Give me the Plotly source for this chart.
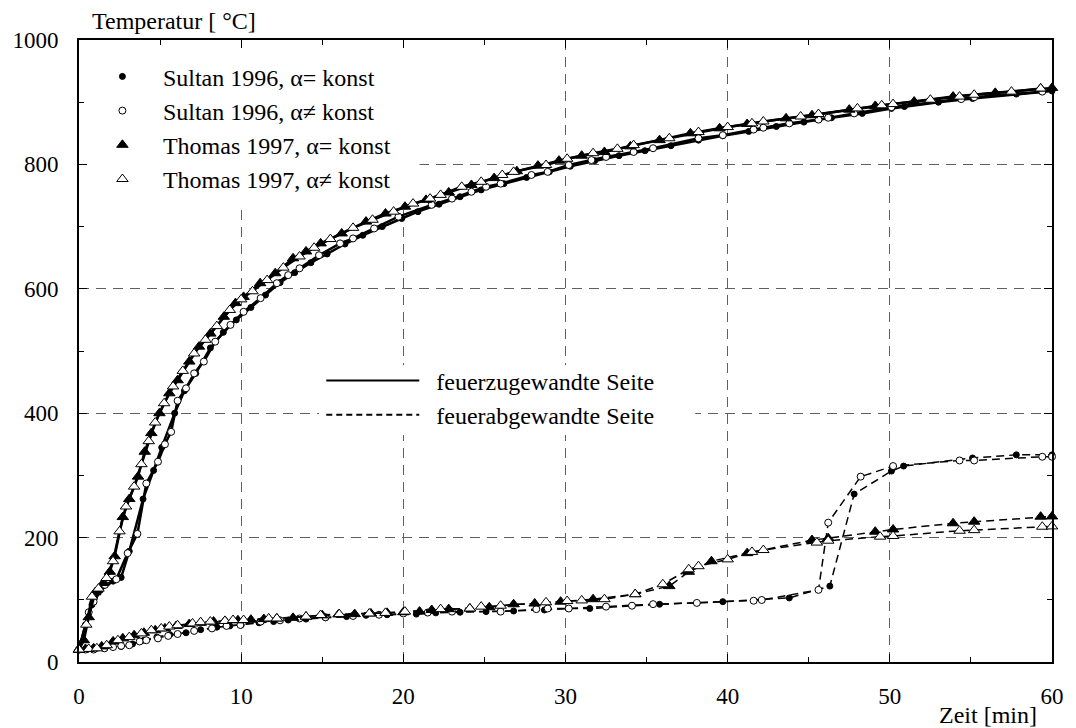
import plotly.graph_objects as go

# ---------------- data ----------------
# fire-exposed side (solid lines)
sultan_const_hot_t = [0, 0.4, 0.8, 1.3, 2.1, 2.6, 3.1, 3.95, 4.6, 5.1, 5.9, 6.5, 7.2, 8.1, 8.9, 9.7,
                      10.6, 11.5, 12.4, 13.3, 14.3, 15.3, 16.4, 17.5, 18.7, 19.9, 20.9, 22.2, 23.5,
                      24.8, 26.2, 27.6, 29.0, 30.3, 31.8, 33.3, 34.9, 36.5, 38.2, 39.7, 41.3, 43.0,
                      44.7, 46.4, 48.3, 50.1, 50.9, 53.0, 55.1, 57.8, 60]
sultan_const_hot_T = [20, 60, 92, 115, 130, 136, 178, 262, 308, 345, 400, 436, 464, 505, 530, 550,
                      570, 590, 610, 626, 642, 656, 672, 686, 700, 713, 724, 736, 748,
                      759, 769, 779, 788, 797, 806, 814, 822, 830, 839, 846, 853, 861,
                      868, 875, 882, 890, 893, 900, 906, 913, 918]

sultan_var_hot_t = [0, 0.6, 0.9, 1.6, 2.3, 3.0, 3.6, 4.15, 4.87, 5.3, 5.68, 6.08, 6.6, 7.1, 7.7, 8.4,
                    9.34, 10.15, 11.2, 12.2, 12.9, 13.6, 14.8, 16.1, 16.9, 18.2, 19.7, 21.75, 23.0,
                    24.2, 25.1, 26.0, 27.9, 28.9, 30.2, 31.6, 32.5, 34.2, 35.4, 38.2, 39.7, 41.6,
                    42.2, 43.8, 45.6, 46.2, 47.8, 50.1, 54.4, 55.2, 59.4]
sultan_var_hot_T = [20, 80, 97, 124, 133, 175, 206, 287, 322, 350, 370, 420, 440, 464, 483, 515,
                    542, 563, 585, 609, 622, 633, 654, 673, 681, 697, 716, 735, 745,
                    756, 764, 769, 783, 788, 799, 807, 812, 820, 826, 842, 847, 856,
                    859, 866, 872, 875, 882, 892, 905, 908, 917]

thomas_const_hot_t = [0, 0.3, 0.6, 1.0, 1.5, 1.9, 2.2, 2.7, 3.1, 3.64, 4.05, 4.46, 4.96, 5.57, 6.08,
                      6.8, 7.4, 8.1, 8.93, 9.65, 10.15, 11.17, 12.1, 13.2, 14.0, 14.9, 16.2, 17.7,
                      18.9, 20.1, 21.4, 22.8, 24.2, 25.6, 27.0, 28.3, 29.6, 31.0, 32.4, 34.0, 35.8,
                      37.7, 39.5, 41.2, 43.6, 45.2, 47.5, 49.1, 51.5, 53.9, 56.5, 59.3, 60]
thomas_const_hot_T = [20, 35, 72, 112, 127, 145, 170, 233, 262, 298, 338, 368, 400, 432, 453,
                      483, 507, 528, 555, 577, 587, 609, 625, 649, 660, 673, 689, 708,
                      721, 732, 743, 755, 767, 778, 789, 798, 806, 814, 820, 829, 839,
                      850, 858, 865, 874, 879, 888, 894, 901, 909, 915, 922, 923]

thomas_var_hot_t = [0, 0.45, 0.8, 1.2, 1.7, 2.1, 2.5, 2.9, 3.4, 3.85, 4.3, 4.7, 5.25, 5.8, 6.4, 7.1,
                    7.8, 8.5, 9.3, 10.0, 10.7, 11.6, 12.6, 13.6, 14.5, 15.5, 16.9, 18.1, 19.4, 20.6,
                    21.65, 22.3, 23.6, 24.8, 26.1, 26.8, 28.8, 30.1, 31.7, 33.2, 34.2, 36.4, 38.2,
                    40.0, 41.5, 42.2, 44.5, 45.6, 48.0, 49.5, 50.2, 52.5, 54.3, 55.2, 57.5, 59.3]
thomas_var_hot_T = [20, 60, 105, 118, 135, 162, 210, 250, 282, 318, 355, 385, 416, 443, 468, 496,
                    518, 540, 566, 583, 596, 614, 634, 652, 666, 680, 698, 711, 724, 737,
                    745, 751, 764, 772, 783, 788, 799, 809, 818, 825, 831, 842, 852,
                    860, 866, 869, 877, 881, 890, 895, 897, 904, 909, 912, 917, 922]

# fire-averted side (dashed lines)
sultan_const_cold_t = [0, 0.5, 1.0, 1.6, 2.6, 3.3, 4.0, 4.8, 5.6, 6.6, 7.5, 8.5, 9.3, 10.0, 11.1, 12.0,
                       12.9, 14.0, 15.2, 16.5, 17.7, 19.0, 20.8, 22.0, 23.5, 25.1, 26.8, 28.7, 30.2,
                       31.5, 35.8, 39.7, 43.8, 46.3, 47.8, 50.1, 50.85, 55.1, 57.8, 60]
sultan_const_cold_T = [20, 20, 21, 22, 25, 29, 35, 40, 44, 47, 52, 56, 58, 59.5, 63, 65,
                       67.5, 69, 71, 73, 75, 76, 77, 79, 80, 81, 82, 83.6, 86,
                       86, 92.8, 97, 103, 122, 270, 307, 315, 328, 333, 333]

sultan_var_cold_t = [0, 0.4, 0.9, 1.56, 2.1, 2.6, 3.1, 3.74, 4.15, 4.87, 5.5, 6.08, 7.1, 8.2, 9.1, 9.95,
                     11.2, 12.4, 13.6, 15.2, 16.9, 18.5, 20.0, 21.5, 23.0, 26.0, 28.2, 28.9, 30.2,
                     32.5, 34.1, 35.4, 38.1, 41.6, 42.1, 45.6, 46.2, 48.2, 50.2, 54.3, 55.2, 59.4, 60]
sultan_var_cold_T = [20, 20, 20, 22, 24, 26, 27, 33, 35, 38, 42, 45, 50, 54, 58, 59.5,
                     65, 67, 70, 72, 74, 76, 78, 79.5, 81, 81, 85, 86, 86,
                     89, 90.5, 93, 95, 98.5, 99.7, 116, 224, 298, 315, 324, 324, 330, 330]

thomas_const_cold_t = [0, 0.4, 0.9, 1.4, 2.1, 2.7, 3.4, 4.0, 4.7, 5.3, 6.0, 6.8, 7.5, 8.3, 9.0, 9.8,
                       10.6, 11.4, 12.2, 13.2, 14.0, 15.0, 16.0, 17.0, 18.0, 19.0, 20.0, 21.0, 21.75,
                       22.8, 24.1, 25.3, 26.8, 28.1, 29.7, 31.7, 34.3, 36.4, 37.6, 39.0, 41.2, 45.2,
                       46.2, 49.1, 50.2, 53.9, 55.2, 59.3, 60]
thomas_const_cold_T = [20, 21, 22, 25, 33, 38, 43, 47, 51, 54, 58, 61, 63, 65, 66, 67,
                       68, 69, 70, 71, 73, 75, 76.5, 77, 78, 79, 80, 81, 83.6,
                       85, 86, 88, 92.8, 94, 97, 101, 109, 122, 145, 162, 175, 196,
                       199, 209.5, 213, 223, 225.6, 233.6, 234]

thomas_var_cold_t = [0, 0.6, 1.1, 1.71, 2.4, 3.1, 3.85, 4.46, 5.07, 5.57, 6.08, 7.0, 7.5, 8.1, 9.0, 9.5,
                     10.15, 11.7, 12.2, 14.0, 14.9, 16.05, 17.9, 18.9, 20.1, 22.3, 24.1, 24.8, 26.0,
                     28.8, 30.1, 31.0, 32.4, 34.3, 36.0, 37.6, 38.2, 40.0, 41.5, 42.2, 45.5, 46.2,
                     49.4, 50.2, 54.3, 55.2, 59.4, 60]
thomas_var_cold_T = [20, 21, 22, 27, 35, 40, 46, 51, 54, 57, 59, 62, 64, 65, 66, 67.5,
                     67.5, 70, 70, 73, 75.5, 77, 78, 79, 81, 85, 86, 89, 90.5,
                     96, 98, 99, 101, 109, 125, 149, 154, 165, 177, 180, 192, 195,
                     201.5, 202.6, 211, 212, 217.5, 218]

series_names = ["Sultan 1996, α= konst", "Sultan 1996, α≠ konst",
                "Thomas 1997, α= konst", "Thomas 1997, α≠ konst"]
side_names = ["feuerzugewandte Seite", "feuerabgewandte Seite"]
x_ticks = [0, 10, 20, 30, 40, 50, 60]
y_ticks = [0, 200, 400, 600, 800, 1000]

# ---------------- styles ----------------
FONT = "Liberation Serif"
marker_styles = [
    dict(symbol="circle", size=6, color="black", line=dict(color="black", width=1)),
    dict(symbol="circle", size=7, color="white", line=dict(color="black", width=1)),
    dict(symbol="triangle-up", size=10, color="black", line=dict(color="black", width=1)),
    dict(symbol="triangle-up", size=10, color="white", line=dict(color="black", width=1)),
]
hot = [(sultan_const_hot_t, sultan_const_hot_T), (sultan_var_hot_t, sultan_var_hot_T),
       (thomas_const_hot_t, thomas_const_hot_T), (thomas_var_hot_t, thomas_var_hot_T)]
cold = [(sultan_const_cold_t, sultan_const_cold_T), (sultan_var_cold_t, sultan_var_cold_T),
        (thomas_const_cold_t, thomas_const_cold_T), (thomas_var_cold_t, thomas_var_cold_T)]

fig = go.Figure()

for (t, T), ms in zip(cold, marker_styles):
    fig.add_trace(go.Scatter(x=t, y=T, mode="lines+markers",
                             line=dict(color="black", width=1.5, dash="8px,5px"),
                             marker=ms, showlegend=False, cliponaxis=False))
for (t, T), ms in zip(hot, marker_styles):
    fig.add_trace(go.Scatter(x=t, y=T, mode="lines+markers",
                             line=dict(color="black", width=2.5),
                             marker=ms, showlegend=False, cliponaxis=False))

# legend entries
for name, ms in zip(series_names, marker_styles):
    fig.add_trace(go.Scatter(x=[None], y=[None], mode="markers", name=name,
                             marker=ms, legend="legend"))
for name, dash in zip(side_names, ["solid", "6px,4px"]):
    fig.add_trace(go.Scatter(x=[None], y=[None], mode="lines", name="\u00a0\u00a0" + name,
                             line=dict(color="black", width=2, dash=dash), legend="legend2"))

# white boxes behind legends (hide grid there)
fig.add_shape(type="rect", xref="x", yref="y", x0=0.05, x1=21, y0=735, y1=998,
              fillcolor="white", line=dict(width=0), layer="between")
fig.add_shape(type="rect", xref="x", yref="y", x0=14.8, x1=38.0, y0=365, y1=477,
              fillcolor="white", line=dict(width=0), layer="between")

axis_common = dict(
    showline=True, linecolor="black", linewidth=2, mirror="allticks",
    ticks="inside", ticklen=8, tickwidth=1, tickcolor="black",
    showgrid=True, gridcolor="#606060", gridwidth=1, griddash="10px,7px",
    zeroline=False, tickfont=dict(family=FONT, size=23, color="black"),
)
fig.update_xaxes(range=[0, 60], tickvals=x_ticks, ticktext=[str(v) for v in x_ticks],
                 minor=dict(tickvals=[5, 15, 25, 35, 45, 55], ticks="inside", ticklen=5,
                            tickcolor="black", showgrid=False),
                 ticklabelstandoff=12, **axis_common)
fig.update_yaxes(range=[0, 1000], tickvals=y_ticks, ticktext=[str(v) for v in y_ticks],
                 minor=dict(tickvals=[100, 300, 500, 700, 900], ticks="inside", ticklen=5,
                            tickcolor="black", showgrid=False),
                 ticklabelstandoff=14, **axis_common)

fig.add_annotation(text="Temperatur [ °C]", xref="paper", yref="paper", x=0.011, y=1.0,
                   xanchor="left", yanchor="bottom", yshift=4, showarrow=False,
                   font=dict(family=FONT, size=24, color="black"))
fig.add_annotation(text="Zeit [min]", xref="paper", yref="paper", x=1.0, y=0,
                   xanchor="right", yanchor="middle", xshift=-13, yshift=-53, showarrow=False,
                   font=dict(family=FONT, size=24, color="black"))

fig.update_layout(
    width=1076, height=728,
    margin=dict(l=77, r=16, t=40, b=66),
    paper_bgcolor="white", plot_bgcolor="white",
    font=dict(family=FONT, size=24, color="black"),
    legend=dict(x=0.003, y=0.977, xanchor="left", yanchor="top", bgcolor="rgba(0,0,0,0)",
                itemwidth=71, font=dict(family=FONT, size=24, color="black"),
                tracegroupgap=0),
    legend2=dict(x=0.249, y=0.488, xanchor="left", yanchor="top", bgcolor="rgba(0,0,0,0)",
                 itemwidth=93, font=dict(family=FONT, size=24, color="black")),
)

fig.write_html("out.html")
